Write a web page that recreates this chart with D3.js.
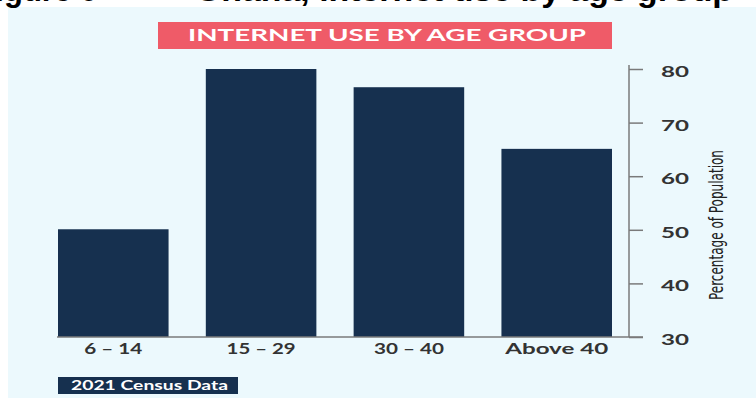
<!DOCTYPE html>
<html>
<head>
<meta charset="utf-8">
<script src="https://cdn.jsdelivr.net/npm/d3@7/dist/d3.min.js"></script>
<style>
  html, body { margin: 0; padding: 0; background: #ffffff; }
  svg { display: block; }
</style>
</head>
<body>
<svg id="chart" width="756" height="403"></svg>
<script>
// Internet use by age group, 2021 census
const categories = ["6 – 14", "15 – 29", "30 – 40", "Above 40"];
const values = [50.1, 80, 76.6, 65.1];
const yTicks = [30, 40, 50, 60, 70, 80];

const svg = d3.select("#chart");
const W = 756;

// panel background
svg.append("rect").attr("x", 8).attr("y", 7).attr("width", W - 8).attr("height", 391)
  .attr("fill", "#ecf9fd");

// figure caption running off the top edge
const capFont = "Liberation Sans, Arial, sans-serif";
svg.append("text").attr("x", 97).attr("y", 1).attr("text-anchor", "end")
  .attr("font-family", capFont).attr("font-weight", "bold")
  .attr("font-size", 31).attr("fill", "#000")
  .text("Figure 6");
svg.append("text").attr("x", 195).attr("y", 1)
  .attr("font-family", capFont).attr("font-weight", "bold")
  .attr("font-size", 31).attr("fill", "#000")
  .attr("textLength", 538).attr("lengthAdjust", "spacingAndGlyphs")
  .text("Ghana, internet use by age group");

// title banner
svg.append("rect").attr("x", 158).attr("y", 22).attr("width", 454).attr("height", 27)
  .attr("fill", "#ef5b68");
svg.append("text").attr("x", 188).attr("y", 41)
  .attr("font-family", "Lato, sans-serif").attr("font-weight", "bold")
  .attr("font-size", 17.5).attr("fill", "#ffffff")
  .attr("textLength", 398).attr("lengthAdjust", "spacingAndGlyphs")
  .text("INTERNET USE BY AGE GROUP");

// scales
const x = d3.scaleBand().domain(categories).range([58, 612])
  .paddingInner(0.252).paddingOuter(0);
const y = d3.scaleLinear().domain([30, 80]).range([337, 69]);

// bars
svg.append("g").selectAll("rect").data(values).join("rect")
  .attr("x", (d, i) => x(categories[i]))
  .attr("width", x.bandwidth())
  .attr("y", d => y(d))
  .attr("height", d => y(30) - y(d))
  .attr("fill", "#16304f");

// baseline
svg.append("line").attr("x1", 57).attr("x2", 643).attr("y1", y(30)).attr("y2", y(30))
  .attr("stroke", "#7a7a7a").attr("stroke-width", 1.5);

// category labels
const labelWidths = [58, 69, 70, 103];
const xAxis = svg.append("g").attr("transform", `translate(0,${y(30)})`)
  .call(d3.axisBottom(x).tickSize(0));
xAxis.select(".domain").remove();
xAxis.selectAll("text")
  .attr("y", 17).attr("dy", 0)
  .attr("font-family", "Lato, sans-serif").attr("font-weight", "bold")
  .attr("font-size", 16).attr("fill", "#333")
  .attr("textLength", (d, i) => labelWidths[i]).attr("lengthAdjust", "spacingAndGlyphs");

// value axis on the right
const yAxis = svg.append("g").attr("transform", "translate(629,0)")
  .call(d3.axisRight(y).tickValues(yTicks).tickSize(14).tickPadding(18).tickSizeOuter(0));
yAxis.select(".domain").attr("stroke", "#7a7a7a").attr("stroke-width", 1.5)
  .attr("d", `M0,${y(80) - 4}V${y(30)}`);
yAxis.selectAll(".tick line").attr("stroke", "#7a7a7a").attr("stroke-width", 1.5);
yAxis.selectAll("text")
  .attr("dy", "0.5em")
  .attr("font-family", "Lato, sans-serif").attr("font-weight", "bold")
  .attr("font-size", 15).attr("fill", "#333")
  .attr("textLength", 28).attr("lengthAdjust", "spacingAndGlyphs");

// axis title
svg.append("text")
  .attr("transform", "translate(723,225) rotate(-90)")
  .attr("text-anchor", "middle")
  .attr("font-family", "DejaVu Sans Condensed, DejaVu Sans, sans-serif")
  .attr("font-stretch", "condensed")
  .attr("font-size", 19).attr("fill", "#222")
  .attr("textLength", 150).attr("lengthAdjust", "spacingAndGlyphs")
  .text("Percentage of Population");

// source tag
svg.append("rect").attr("x", 58).attr("y", 377).attr("width", 180).attr("height", 17)
  .attr("fill", "#16304f");
svg.append("text").attr("x", 71).attr("y", 390)
  .attr("font-family", "Lato, sans-serif").attr("font-weight", "bold")
  .attr("font-size", 13).attr("fill", "#ffffff")
  .attr("textLength", 157).attr("lengthAdjust", "spacingAndGlyphs")
  .text("2021 Census Data");
</script>
</body>
</html>
